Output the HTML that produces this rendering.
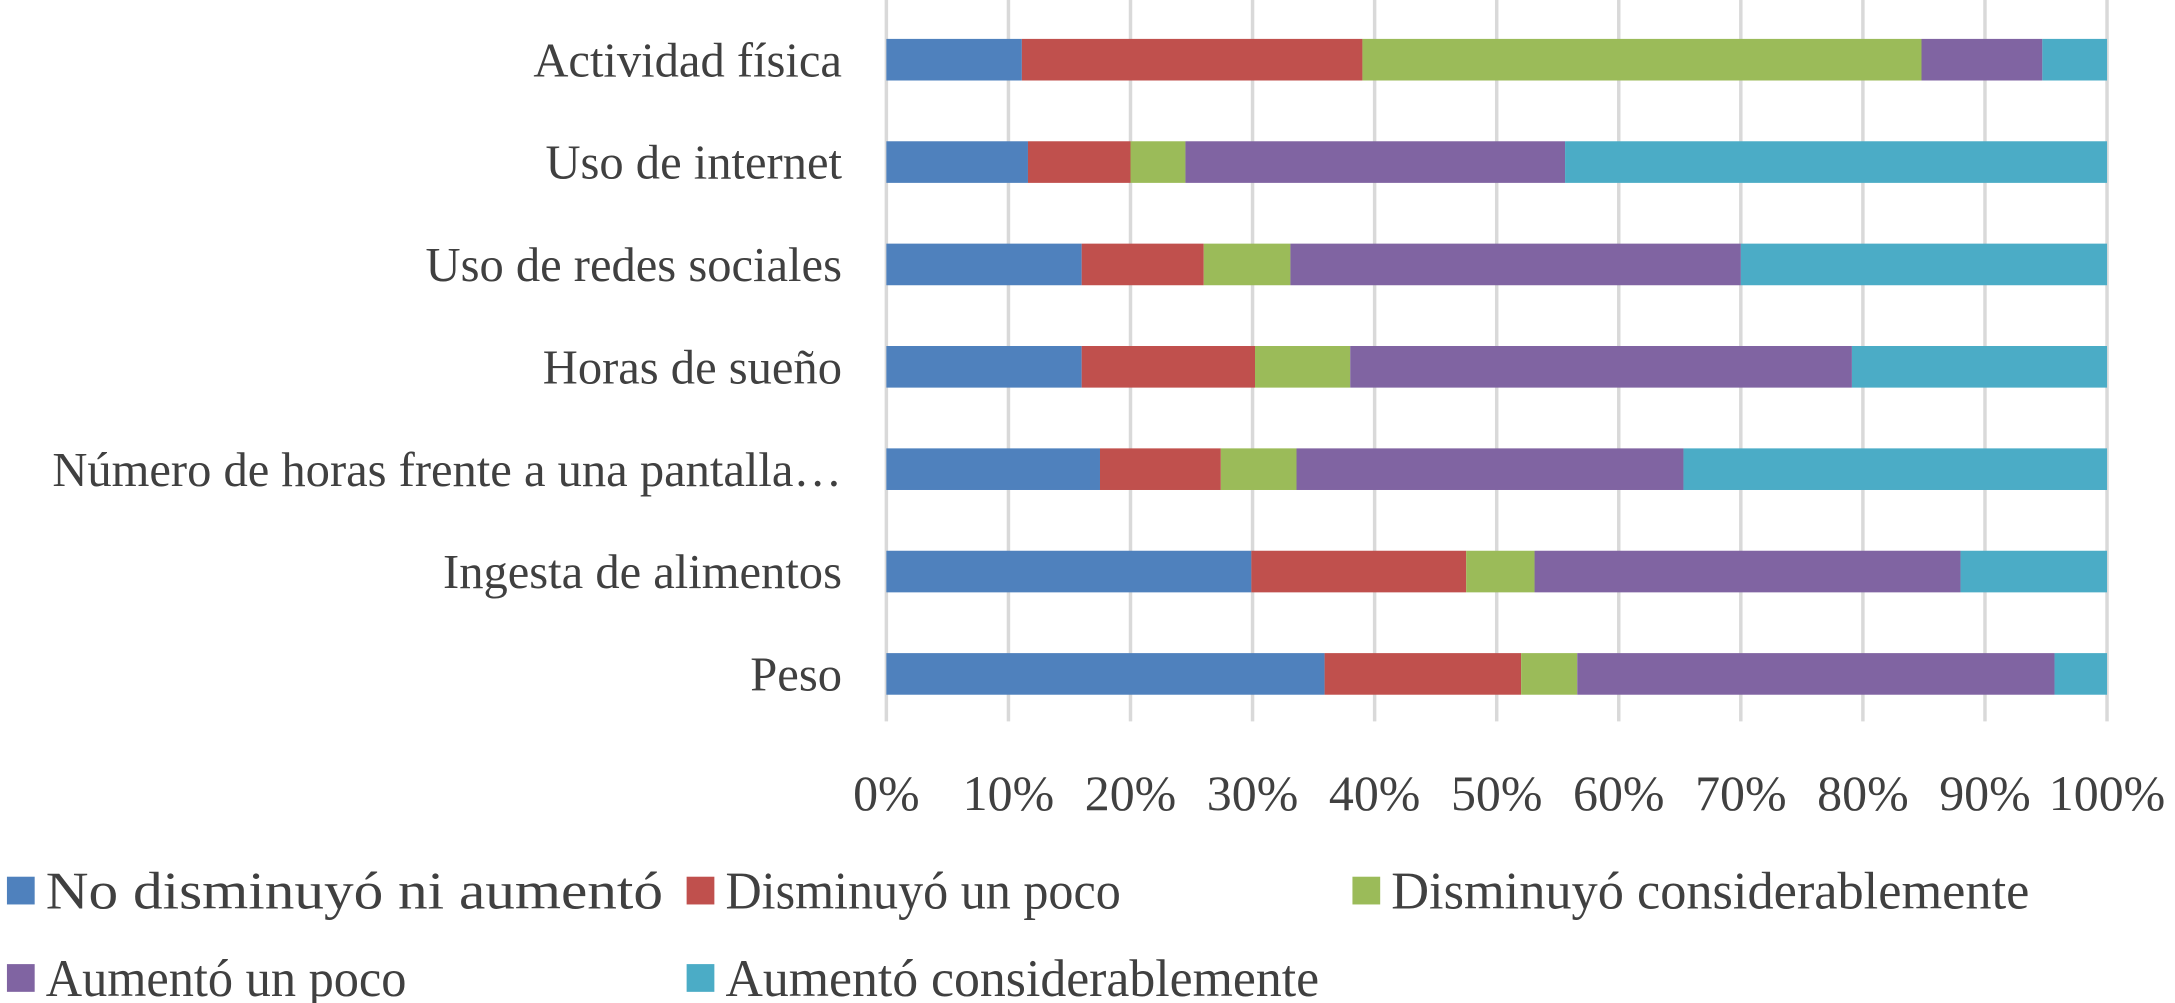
<!DOCTYPE html>
<html><head><meta charset="utf-8"><style>
body{margin:0;background:#fff;overflow:hidden;}
svg{display:block;}
svg text{font-family:"Liberation Serif","DejaVu Serif",serif;fill:#404040;}
</style></head><body>
<svg width="2175" height="1003" viewBox="0 0 1568 723" xmlns="http://www.w3.org/2000/svg">
<g id="grid"></g>
<g id="bars"></g>
<g id="cats"></g>
<g id="ticks"></g>
<g id="legend"></g>
</svg>
<script>
const categories=["Actividad física","Uso de internet","Uso de redes sociales","Horas de sueño","Número de horas frente a una pantalla…","Ingesta de alimentos","Peso"];
const seriesNames=["No disminuyó ni aumentó","Disminuyó un poco","Disminuyó considerablemente","Aumentó un poco","Aumentó considerablemente"];
const noCambio=[11.1,11.6,16.0,16.0,17.5,29.9,35.9];
const dismPoco=[27.9,8.4,10.0,14.2,9.9,17.6,16.1];
const dismCons=[45.8,4.5,7.1,7.8,6.2,5.6,4.6];
const aumPoco=[9.9,31.1,36.9,41.1,31.7,34.9,39.1];
const aumCons=[5.3,44.4,30.0,20.9,34.7,12.0,4.3];
const tickLabels=["0%","10%","20%","30%","40%","50%","60%","70%","80%","90%","100%"];
const colors=["#4F81BD","#C0504D","#9BBB59","#8064A2","#4BACC6"];
const NS="http://www.w3.org/2000/svg";
const x0=639,x1=1519;
const xs=v=>x0+(x1-x0)*v/100;
const yc=i=>43+i*73.8;
function mk(tag,attrs,parent){const e=document.createElementNS(NS,tag);for(const k in attrs)e.setAttribute(k,attrs[k]);parent.appendChild(e);return e;}
const grid=document.getElementById('grid'),bars=document.getElementById('bars'),cats=document.getElementById('cats'),ticks=document.getElementById('ticks'),legend=document.getElementById('legend');
tickLabels.forEach((t,i)=>{
  const x=xs(i*10);
  const l=mk('line',{x1:x,x2:x,y1:0,y2:520,stroke:'#d9d9d9','stroke-width':2.5},grid);
  
  
  const tx=mk('text',{x:x,y:584,'text-anchor':'middle','font-size':36},ticks);
  tx.textContent=t;
  
  
});
const series=[noCambio,dismPoco,dismCons,aumPoco,aumCons];
categories.forEach((c,i)=>{
  let acc=0;
  series.forEach((s,j)=>{
    const r=mk('rect',{x:xs(acc),y:yc(i)-15,width:xs(acc+s[i])-xs(acc),height:30,fill:colors[j]},bars);
    
    
    acc+=s[i];
  });
  const t=mk('text',{x:607,y:yc(i)+12,'text-anchor':'end','font-size':35},cats);
  t.textContent=c;
  
  
});
const legPos=[[5,642],[495,642],[975,642],[5,705],[495,705]];
const legLen=[445,285,460,260,428];
seriesNames.forEach((n,j)=>{
  const [lx,ly]=legPos[j];
  const r=mk('rect',{x:lx,y:ly-10,width:20,height:20,fill:colors[j]},legend);
  
  
  const t=mk('text',{x:lx+28,y:ly+13,'font-size':38,textLength:legLen[j],lengthAdjust:'spacingAndGlyphs'},legend);
  t.textContent=n;
  
  
});
</script>
</body></html>
